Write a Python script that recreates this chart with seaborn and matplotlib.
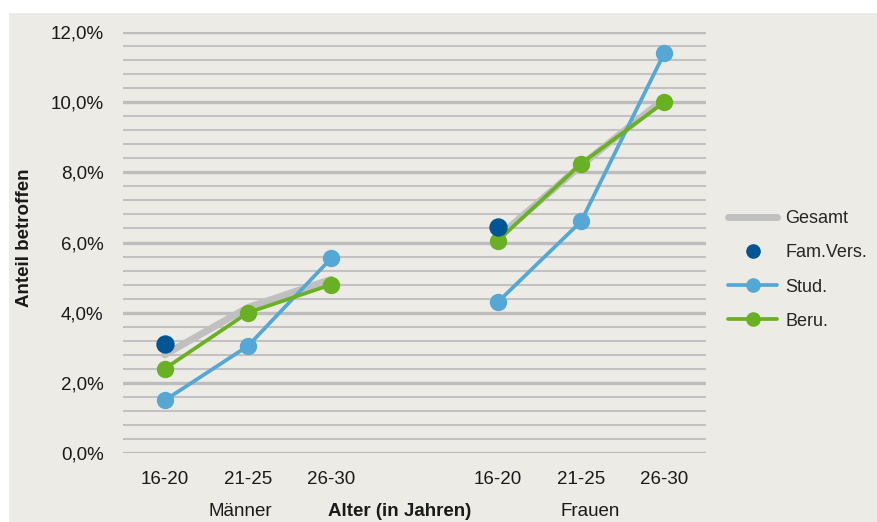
import numpy as np
import pandas as pd
import matplotlib
matplotlib.use("Agg")
import matplotlib.pyplot as plt
import seaborn as sns
from matplotlib.lines import Line2D
from matplotlib.patches import Rectangle
from matplotlib.ticker import FuncFormatter, MultipleLocator

# 데이터
ages = ["16-20", "21-25", "26-30"]
groups = ["Männer", "Frauen"]
gesamt_m = [2.8, 4.15, 4.95]
gesamt_f = [6.15, 8.2, 10.1]
stud_m = [1.5, 3.05, 5.55]
stud_f = [4.3, 6.6, 11.4]
beru_m = [2.4, 4.0, 4.8]
beru_f = [6.05, 8.25, 10.0]
famvers_m = [3.1]
famvers_f = [6.45]

rows = []
for g_i, g in enumerate(groups):
    for name, vals in [("Gesamt", [gesamt_m, gesamt_f][g_i]),
                       ("Stud.", [stud_m, stud_f][g_i]),
                       ("Beru.", [beru_m, beru_f][g_i]),
                       ("Fam.Vers.", [famvers_m, famvers_f][g_i])]:
        for a_i, v in enumerate(vals):
            rows.append({"group": g, "age": ages[a_i], "pos": a_i + 4 * g_i,
                         "series": name, "value": v})
df = pd.DataFrame(rows)

colors = {"Gesamt": "#c0c0c0", "Fam.Vers.": "#005595",
          "Stud.": "#55a8d6", "Beru.": "#6ab023"}
bg = "#ecebe6"
fs = 13.5

sns.set_style("white")
plt.rcParams["font.family"] = ["Liberation Sans", "DejaVu Sans"]

fig = plt.figure(figsize=(8.77, 5.22), dpi=100, facecolor="white")
fig.patches.append(Rectangle((9 / 877, 0), 1, 509 / 522, transform=fig.transFigure,
                             facecolor=bg, edgecolor="none", zorder=-10))
ax = fig.add_axes([123 / 877, 69 / 522, 583 / 877, 421 / 522])
ax.set_facecolor(bg)
ax.patch.set_alpha(0)

# grid
ax.set_ylim(0, 12)
ax.set_xlim(-0.5, 6.5)
ax.yaxis.set_major_locator(MultipleLocator(2))
ax.yaxis.set_minor_locator(MultipleLocator(0.4))
ax.grid(axis="y", which="major", color="#bdbdbd", linewidth=2.4, zorder=0)
ax.grid(axis="y", which="minor", color="#c2c2c2", linewidth=1.5, zorder=0)
ax.set_axisbelow(True)
for s in ax.spines.values():
    s.set_visible(False)

for g in groups:
    d = df[df.group == g]
    sns.lineplot(data=d[d.series == "Gesamt"], x="pos", y="value", ax=ax,
                 color=colors["Gesamt"], linewidth=5, legend=False,
                 solid_capstyle="round", zorder=2)
    for name in ["Stud.", "Beru."]:
        sns.lineplot(data=d[d.series == name], x="pos", y="value", ax=ax,
                     color=colors[name], linewidth=2.7, marker="o", markersize=12.5,
                     markeredgewidth=0, legend=False, zorder=3)
    sns.scatterplot(data=d[d.series == "Fam.Vers."], x="pos", y="value", ax=ax,
                    color=colors["Fam.Vers."], s=175, linewidth=0, legend=False, zorder=4)

ax.yaxis.set_major_formatter(FuncFormatter(lambda v, p: f"{v:.1f}%".replace(".", ",")))
ax.set_xticks([0, 1, 2, 4, 5, 6])
ax.set_xticklabels(ages + ages)
ax.tick_params(axis="both", which="both", length=0, labelsize=fs, labelcolor="#1a1a1a")
ax.tick_params(axis="x", pad=13)
ax.tick_params(axis="y", pad=14)
ax.set_xlabel("")
ax.set_ylabel("")

fig.text(25 / 877, 1 - 238 / 522, "Anteil betroffen", rotation=90, ha="center", va="center",
         fontsize=fs, fontweight="bold", color="#1a1a1a")
label_y = 1 - 512 / 522
fig.text(240 / 877, label_y, "Männer", ha="center", va="center", fontsize=fs, color="#1a1a1a")
fig.text(400 / 877, label_y, "Alter (in Jahren)", ha="center", va="center",
         fontsize=fs, fontweight="bold", color="#1a1a1a")
fig.text(590 / 877, label_y, "Frauen", ha="center", va="center", fontsize=fs, color="#1a1a1a")

handles = [
    Line2D([], [], color=colors["Gesamt"], linewidth=5, solid_capstyle="round"),
    Line2D([], [], color=colors["Fam.Vers."], linestyle="none", marker="o", markersize=9.5),
    Line2D([], [], color=colors["Stud."], linewidth=2.7, marker="o", markersize=9.5),
    Line2D([], [], color=colors["Beru."], linewidth=2.7, marker="o", markersize=9.5),
]
fig.legend(handles, ["Gesamt", "Fam.Vers.", "Stud.", "Beru."], loc="center left",
           bbox_to_anchor=(712 / 877, 1 - 270 / 522), frameon=False, fontsize=13,
           handlelength=2.7, labelspacing=0.95, handletextpad=0.45)

fig.savefig("out.png", dpi=100, facecolor="white")
